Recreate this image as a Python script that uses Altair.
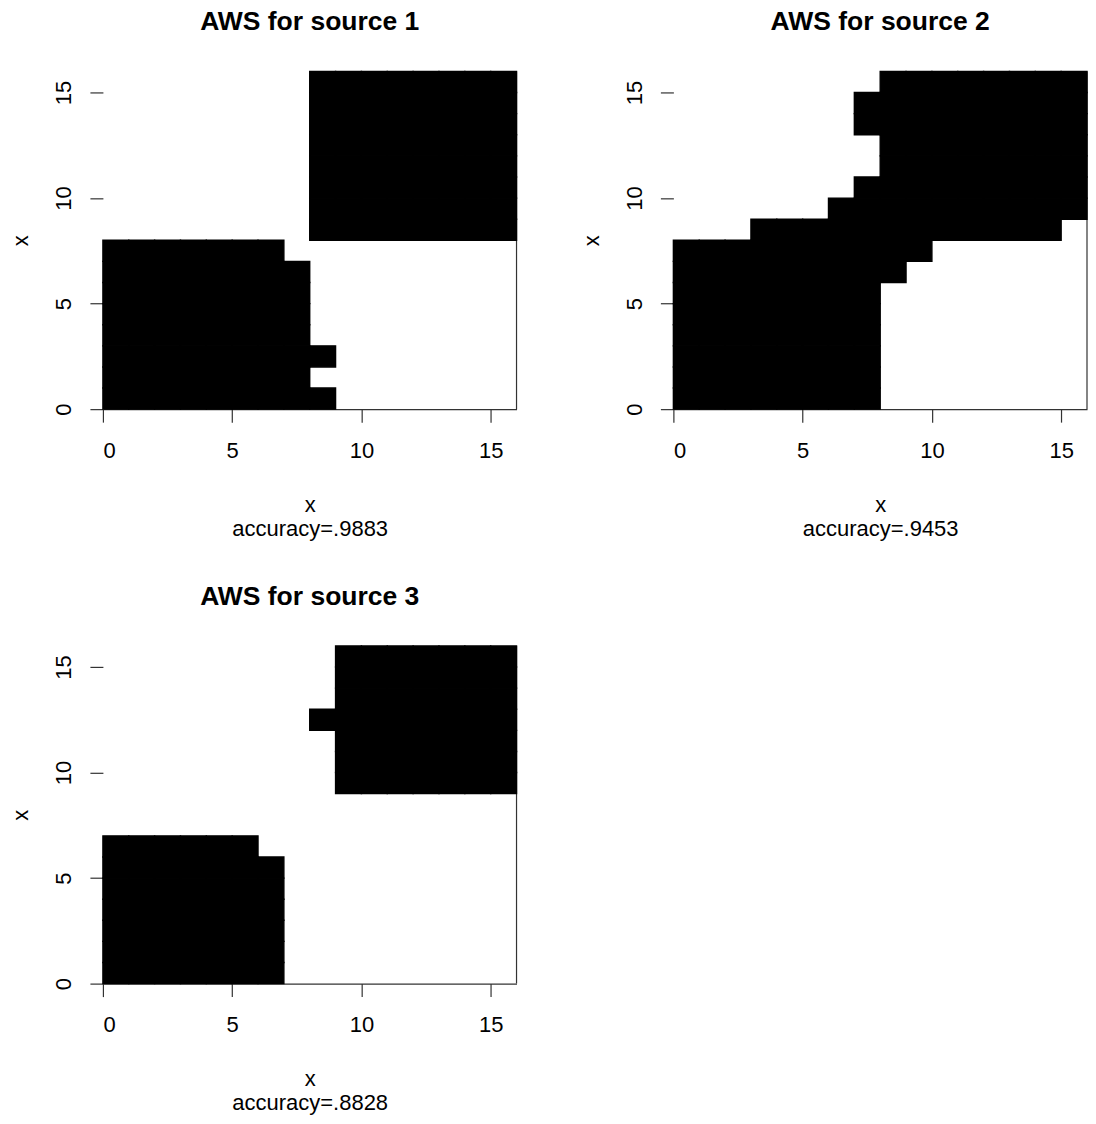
import altair as alt
import pandas as pd

# ---- data (rows listed from y=15 at top down to y=0) ----
titles = ["AWS for source 1", "AWS for source 2", "AWS for source 3"]
accuracy = [".9883", ".9453", ".8828"]
tick_values = [0, 5, 10, 15]
grid_size = 16

grid_source1 = [
    "0000000011111111",
    "0000000011111111",
    "0000000011111111",
    "0000000011111111",
    "0000000011111111",
    "0000000011111111",
    "0000000011111111",
    "0000000011111111",
    "1111111000000000",
    "1111111100000000",
    "1111111100000000",
    "1111111100000000",
    "1111111100000000",
    "1111111110000000",
    "1111111100000000",
    "1111111110000000",
]

grid_source2 = [
    "0000000011111111",
    "0000000111111111",
    "0000000111111111",
    "0000000011111111",
    "0000000011111111",
    "0000000111111111",
    "0000001111111111",
    "0001111111111110",
    "1111111111000000",
    "1111111110000000",
    "1111111100000000",
    "1111111100000000",
    "1111111100000000",
    "1111111100000000",
    "1111111100000000",
    "1111111100000000",
]

grid_source3 = [
    "0000000001111111",
    "0000000001111111",
    "0000000001111111",
    "0000000011111111",
    "0000000001111111",
    "0000000001111111",
    "0000000001111111",
    "0000000000000000",
    "0000000000000000",
    "1111110000000000",
    "1111111000000000",
    "1111111000000000",
    "1111111000000000",
    "1111111000000000",
    "1111111000000000",
    "1111111000000000",
]

grids = [grid_source1, grid_source2, grid_source3]


def cells(grid):
    rows = []
    for k, row in enumerate(grid):
        y = grid_size - 1 - k
        for x, c in enumerate(row):
            if c == "1":
                rows.append({"x": x, "x2": x + 1, "y": y, "y2": y + 1})
    return pd.DataFrame(rows)


W, H = 414, 338
FONT = "Liberation Sans"


def panel(grid, title, acc):
    xs = alt.Scale(domain=[0, grid_size], nice=False, zero=False)
    ys = alt.Scale(domain=[0, grid_size], nice=False, zero=False)
    x_axis = alt.Axis(
        values=tick_values,
        title=["x", "accuracy=" + acc],
        grid=False,
        domain=True,
        labelPadding=18,
        titlePadding=33,
    )
    y_axis = alt.Axis(
        values=tick_values,
        title="x",
        grid=False,
        domain=False,
        labelAngle=270,
        labelPadding=14,
        titlePadding=20,
    )
    edge_df = pd.DataFrame({"x": [grid_size], "y": [0], "y2": [grid_size]})
    edge = alt.Chart(edge_df).mark_rule(color="#333333", strokeWidth=1.2).encode(
        x=alt.X("x:Q", scale=xs, axis=x_axis),
        y=alt.Y("y:Q", scale=ys, axis=y_axis),
        y2="y2",
    )
    rect = alt.Chart(cells(grid)).mark_rect(
        color="black", stroke="black", strokeWidth=1.4
    ).encode(
        x=alt.X("x:Q", scale=xs, axis=x_axis),
        x2="x2",
        y=alt.Y("y:Q", scale=ys, axis=y_axis),
        y2="y2",
    )
    return alt.layer(edge, rect).properties(
        width=W,
        height=H,
        title=alt.TitleParams(
            title, fontSize=26.5, font=FONT, fontWeight="bold", offset=35, color="black"
        ),
    )


panels = [panel(g, t, a) for g, t, a in zip(grids, titles, accuracy)]

chart = alt.concat(
    *panels, columns=2, spacing={"row": 237, "column": 157}, bounds="flush"
).configure_view(stroke=None).configure_axis(
    labelFont=FONT,
    labelFontSize=22,
    labelColor="black",
    titleFont=FONT,
    titleFontSize=22,
    titleFontWeight="normal",
    titleColor="black",
    tickColor="#333333",
    tickSize=13,
    tickWidth=1.2,
    domainColor="#333333",
    domainWidth=1.2,
).properties(
    background="white",
    padding={"left": 2, "top": 0, "right": 0, "bottom": 5},
)

chart.save("out.html", embed_options={"renderer": "svg", "actions": False})
